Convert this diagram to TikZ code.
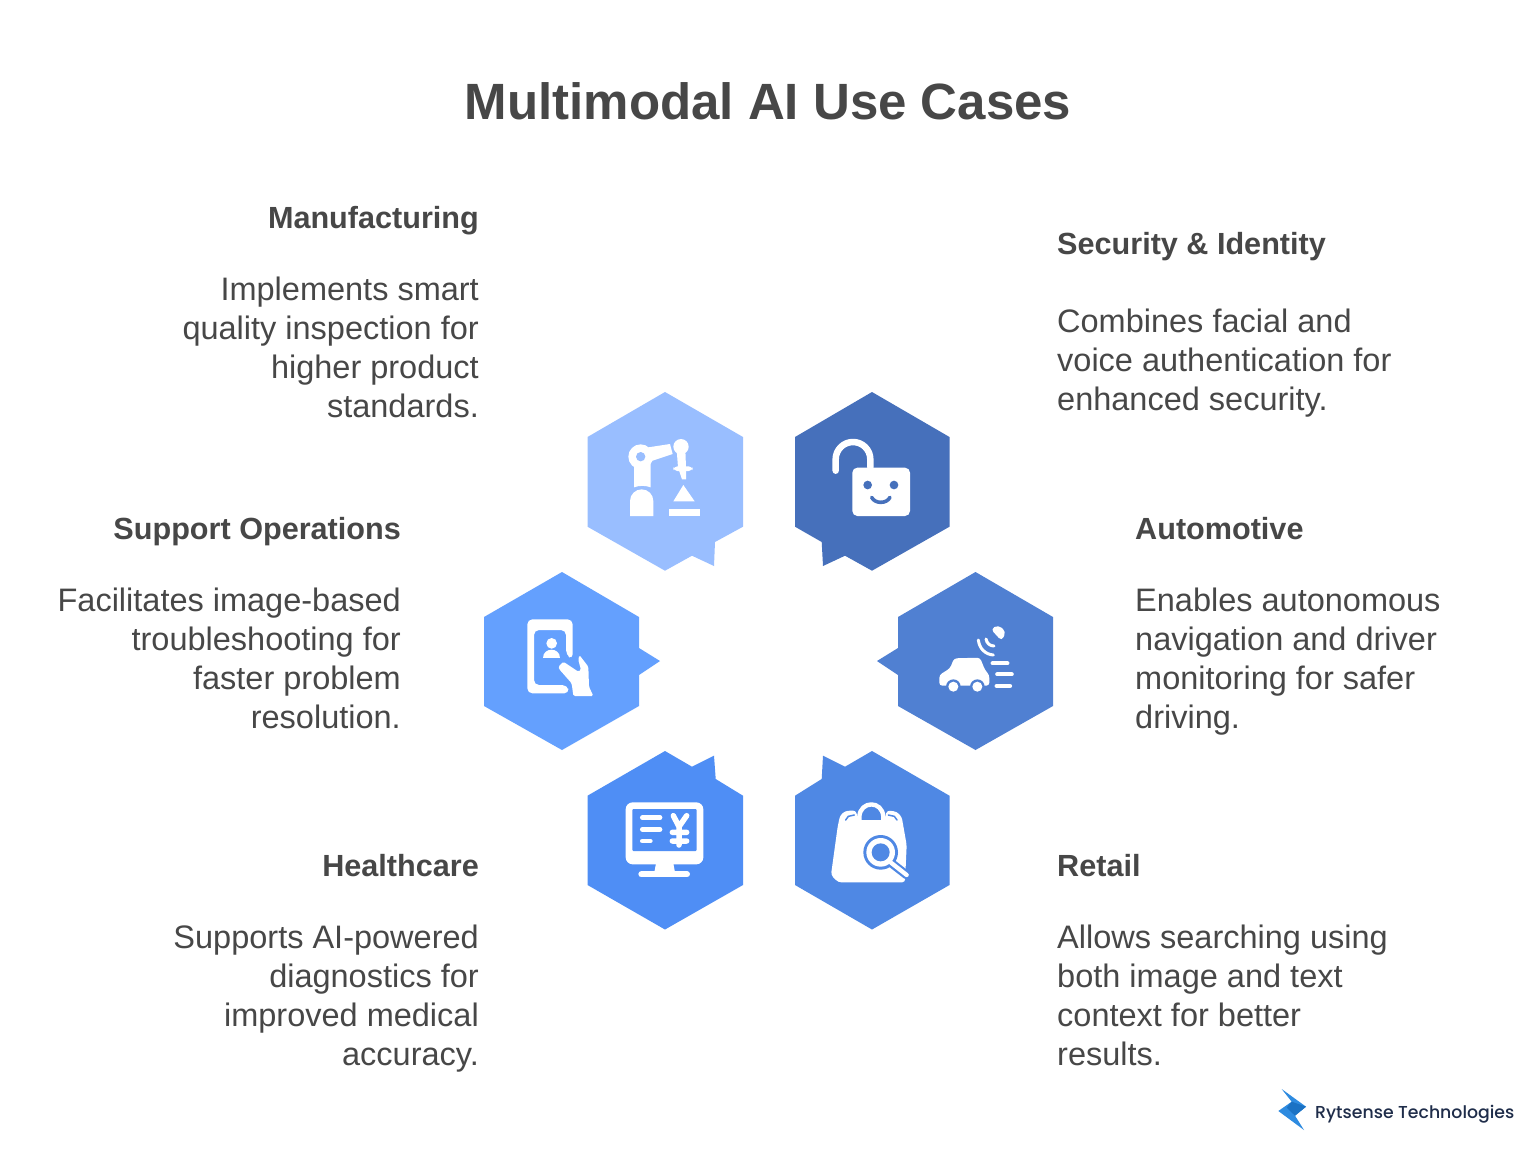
\documentclass[tikz,border=0pt]{standalone}
\usepackage{fontspec}
\setmainfont{Liberation Sans}
\newfontfamily\logofont{Poppins Medium}
\definecolor{inktext}{HTML}{474747}
\definecolor{hexmanu}{HTML}{99BEFF}
\definecolor{hexsec}{HTML}{4670BB}
\definecolor{hexsup}{HTML}{64A0FE}
\definecolor{hexauto}{HTML}{5080D2}
\definecolor{hexheal}{HTML}{4F8EF5}
\definecolor{hexret}{HTML}{4F88E4}
\definecolor{logolight}{HTML}{2E8BE0}
\definecolor{logodark}{HTML}{1B72C4}
\definecolor{logoink}{HTML}{1F2D4A}
\tikzset{
  titletext/.style={font=\fontsize{51}{60}\selectfont\bfseries,text=inktext,inner sep=0pt,anchor=base},
  headtext/.style={font=\fontsize{30.6}{39}\selectfont\bfseries,text=inktext,inner sep=0pt},
  bodytext/.style={font=\fontsize{32.5}{39}\selectfont,text=inktext,inner sep=0pt},
  lefttext/.style={align=right,anchor=north east},
  righttext/.style={align=left,anchor=north west},
  iconline/.style={draw=white,line cap=round,line join=round},
  iconfill/.style={fill=white,rounded corners=1.5pt}
}
\begin{document}
\begin{tikzpicture}[x=1pt,y=-1pt]
  \useasboundingbox[fill=white] (0,0) rectangle (1536,1152);
  \node[titletext] (title) at (768,119) {Multimodal AI Use Cases};

  \node[headtext,anchor=base east] (manuhead) at (479,228) {Manufacturing};
  \node[bodytext,lefttext] (manutext) at (479,272.7) {\strut Implements smart\\quality inspection for\\higher product\\standards.};
  \node[headtext,anchor=base east] (suphead) at (401,539) {Support Operations};
  \node[bodytext,lefttext] (suptext) at (401,583.7) {\strut Facilitates image-based\\troubleshooting for\\faster problem\\resolution.};
  \node[headtext,anchor=base east] (healhead) at (479,876) {Healthcare};
  \node[bodytext,lefttext] (healtext) at (479,920.7) {\strut Supports AI-powered\\diagnostics for\\improved medical\\accuracy.};
  \node[headtext,anchor=base west] (sechead) at (1057,254) {Security \& Identity};
  \node[bodytext,righttext] (sectext) at (1057,304.7) {\strut Combines facial and\\voice authentication for\\enhanced security.};
  \node[headtext,anchor=base west] (autohead) at (1135,539) {Automotive};
  \node[bodytext,righttext] (autotext) at (1135,583.7) {\strut Enables autonomous\\navigation and driver\\monitoring for safer\\driving.};
  \node[headtext,anchor=base west] (rethead) at (1057,876) {Retail};
  \node[bodytext,righttext] (rettext) at (1057,920.7) {\strut Allows searching using\\both image and text\\context for better\\results.};

  \fill[hexmanu] (665,392) -- (743,437) -- (743,526.7) -- (715,542) -- (714,566) -- (692,555.7) -- (665,570.7) -- (587.5,526.7) -- (587.5,437) -- cycle;
  \fill[hexsec] (872,392) -- (949.5,437) -- (949.5,526.7) -- (872,570.7) -- (845,555.7) -- (823,566) -- (821.7,542) -- (795,526.7) -- (795,437) -- cycle;
  \fill[hexsup] (562,572) -- (639,617) -- (639,648) -- (660,661) -- (639,675) -- (639,706) -- (562,750) -- (484,706) -- (484,617) -- cycle;
  \fill[hexauto] (975.5,572) -- (1053,617) -- (1053,706) -- (975.5,750) -- (898,706) -- (898,675) -- (877,661) -- (898,648) -- (898,617) -- cycle;
  \fill[hexheal] (665,751) -- (692,766.7) -- (714,755.7) -- (715.7,779) -- (743,795.7) -- (743,885) -- (665,929.5) -- (587.5,885) -- (587.5,795.7) -- cycle;
  \fill[hexret] (872,751) -- (845,766.7) -- (823,755.7) -- (821.7,779) -- (795,795.7) -- (795,885) -- (872,929.5) -- (949.5,885) -- (949.5,795.7) -- cycle;

  \begin{scope}[shift={(620,430)},scale=1/3]
    \fill[white] (30,258) -- (30,213) arc[start angle=180,end angle=360,radius=35] -- (100,258) -- cycle;
    \fill[white] (42,90) -- (42,172) .. controls (58,166) and (76,166) .. (92,172) -- (92,90) -- cycle;
    \fill[white] (85,52) -- (150,42) -- (158,72) -- (92,94) -- cycle;
    \fill[white] (62,80) circle[radius=37];
    \fill[hexmanu] (62,80) circle[radius=14];
    \fill[white] (183,50) circle[radius=23];
    \fill[white] (170,60) -- (196,60) -- (198,112) -- (198,148) -- (186,148) -- (174,112) -- cycle;
    \fill[white,rounded corners=4pt] (160,109) rectangle (218,123);
    \fill[white] (190,165) -- (224,214) -- (160,214) -- cycle;
    \fill[white] (148,238) rectangle (240,258);
  \end{scope}

  \begin{scope}[shift={(570,380)},scale=1/3]
    \draw[iconline,line width=6.5pt] (797,272) -- (797,238) arc[start angle=180,end angle=360,radius=52] -- (901,262);
    \fill[white,rounded corners=5pt] (847,263) rectangle (1020,408);
    \fill[hexsec] (893,315) circle[radius=13] (972,315) circle[radius=13];
    \draw[hexsec,line width=3.6pt,line cap=round] (905,352) .. controls (915,372) and (950,372) .. (960,352);
  \end{scope}

  \begin{scope}[shift={(510,610)},scale=1/3]
    \fill[white,rounded corners=5pt] (52,28) -- (188,28) -- (188,148) -- (168,135) -- (168,60) -- (72,60) -- (72,225) -- (172,225) -- (178,250) -- (52,250) -- cycle;
    \fill[white] (125,100) circle[radius=16];
    \fill[white] (100,145) .. controls (100,112) and (150,112) .. (150,145) -- cycle;
    \fill[iconfill] (145,170) -- (160,155) -- (205,185) -- (213,180) -- (205,150) -- (208,135) -- (235,170) -- (237,230) -- (250,258) -- (190,258) -- (185,220) -- (148,178) -- cycle;
  \end{scope}

  \begin{scope}[shift={(930,615)},scale=1/3]
    \fill[white,rounded corners=3pt] (28,180) -- (60,160) -- (72,130) -- (150,128) -- (165,165) -- (178,180) -- (178,212) -- (28,212) -- cycle;
    \fill[hexauto] (70,215) circle[radius=22] (142,215) circle[radius=22];
    \fill[white] (70,215) circle[radius=15] (142,215) circle[radius=15];
    \fill[white,rounded corners=4pt] (182,42) -- (205,30) -- (228,50) -- (215,78) -- cycle;
    \draw[iconline,line width=3pt] (145,75) .. controls (148,100) and (165,118) .. (190,120);
    \draw[iconline,line width=3pt] (168,72) .. controls (170,85) and (180,93) .. (192,93);
    \draw[iconline,line width=4.3pt] (188,145) -- (232,145) (202,178) -- (245,178) (200,213) -- (240,213);
  \end{scope}

  \begin{scope}[shift={(570,745)},scale=1/3]
    \fill[white,rounded corners=7pt] (167,172) rectangle (400,358);
    \fill[hexheal,rounded corners=1pt] (187,192) rectangle (380,318);
    \fill[white] (258,355) -- (310,355) -- (315,382) -- (253,382) -- cycle;
    \draw[iconline,line width=6pt] (214,388) -- (351,388);
    \draw[iconline,line width=4.7pt] (217,218) -- (270,218) (217,253) -- (270,253) (217,288) -- (241,288);
    \draw[iconline,line width=5.5pt] (310,212) -- (327,245) -- (350,212) (327,245) -- (327,300) (307,262) -- (350,262) (307,288) -- (350,288);
  \end{scope}

  \begin{scope}[shift={(825,795)},scale=1/3]
    \fill[white,rounded corners=3pt] (45,62) -- (60,48) -- (92,46) -- (100,75) -- (178,75) -- (186,46) -- (215,50) -- (230,65) -- (245,150) -- (240,262) -- (40,262) -- (18,240) -- (38,95) -- cycle;
    \draw[hexret,line width=1.5pt,line cap=round] (62,75) -- (70,64) -- (88,60) (216,75) -- (208,64) -- (190,60);
    \draw[iconline,line width=4.4pt] (103,80) -- (103,65) .. controls (106,16) and (172,16) .. (175,65) -- (175,80);
    \fill[hexret] (167,172) circle[radius=52];
    \draw[hexret,line width=8.7pt,line cap=round] (200,205) -- (245,240);
    \fill[white] (167,172) circle[radius=43];
    \fill[hexret] (167,172) circle[radius=27];
    \draw[iconline,line width=4.3pt] (198,203) -- (245,240);
  \end{scope}

  \begin{scope}[shift={(1270,1085)},scale=1/3]
    \fill[logolight] (35,12) -- (108,65) -- (75,92) -- (102,135) -- (25,78) -- (65,50) -- cycle;
    \fill[logodark] (65,50) -- (108,65) -- (75,92) -- (50,68) -- cycle;
  \end{scope}
  \node[font=\logofont\fontsize{17.3}{22}\selectfont,text=logoink,inner sep=0pt,anchor=base west] (logotext) at (1315,1118) {Rytsense Technologies};
\end{tikzpicture}
\end{document}
